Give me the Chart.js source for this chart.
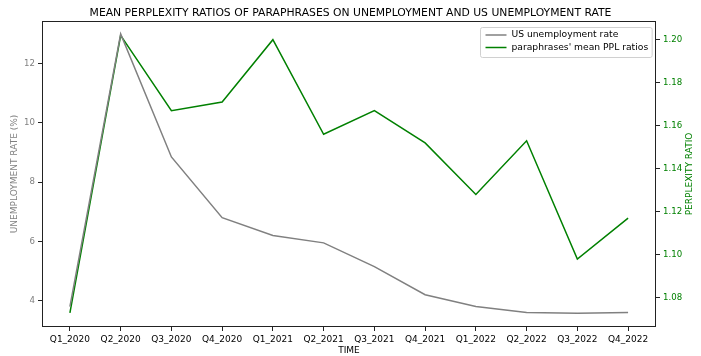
<!DOCTYPE html>
<html>
<head>
<meta charset="utf-8">
<script src="https://cdn.jsdelivr.net/npm/chart.js@4.4.0/dist/chart.umd.min.js"></script>
<style>
  html, body { margin: 0; padding: 0; background: #fff; }
  canvas { display: block; }
</style>
</head>
<body>
<canvas id="myChart" width="701" height="356"></canvas>
<script>
// values
const quarters = ['Q1_2020', 'Q2_2020', 'Q3_2020', 'Q4_2020', 'Q1_2021', 'Q2_2021',
                  'Q3_2021', 'Q4_2021', 'Q1_2022', 'Q2_2022', 'Q3_2022', 'Q4_2022'];
const unemploymentRate = [3.8, 13.0, 8.85, 6.8, 6.2, 5.95, 5.15, 4.2, 3.8, 3.6, 3.57, 3.6];
const pplRatios = [1.073, 1.202, 1.167, 1.171, 1.200, 1.156, 1.167, 1.152, 1.128, 1.153, 1.098, 1.117];
const leftTicks = [4, 6, 8, 10, 12];
const rightTicks = [1.08, 1.10, 1.12, 1.14, 1.16, 1.18, 1.20];

const FONT = 'DejaVu Sans';
const GREY = '#808080';
const GREEN = '#008000';
const SPINE = '#222222';

// matplotlib-like box around the plot
const framePlugin = {
  id: 'frame',
  afterDatasetsDraw(chart) {
    const {ctx, chartArea: a} = chart;
    ctx.save();
    ctx.strokeStyle = SPINE;
    ctx.lineWidth = 1;
    const l = Math.round(a.left) + 0.5, t = Math.round(a.top) + 0.5;
    const r = Math.round(a.right) - 0.5, b = Math.round(a.bottom) - 0.5;
    ctx.strokeRect(l, t, r - l, b - t);
    ctx.restore();
  }
};

// right y label reads bottom-to-top, like matplotlib
const rightTitlePlugin = {
  id: 'rightTitle',
  afterDraw(chart) {
    const {ctx, chartArea: a} = chart;
    ctx.save();
    ctx.translate(690, (a.top + a.bottom) / 2);
    ctx.rotate(-Math.PI / 2);
    ctx.font = '9px "' + FONT + '"';
    ctx.fillStyle = GREEN;
    ctx.textAlign = 'center';
    ctx.textBaseline = 'middle';
    ctx.fillText('PERPLEXITY RATIO', 0, 0);
    ctx.restore();
  }
};

// legend box in the upper right corner of the plot
const legendPlugin = {
  id: 'boxLegend',
  afterDraw(chart) {
    const {ctx, chartArea: a} = chart;
    const sets = chart.data.datasets;
    ctx.save();
    ctx.font = '9.2px "' + FONT + '"';
    let maxW = 0;
    sets.forEach(d => { maxW = Math.max(maxW, ctx.measureText(d.label).width); });
    const pad = 5, handle = 21, gap = 5, rowH = 12.5;
    const w = pad + handle + gap + maxW + 4;
    const h = 30;
    const x = Math.round(a.right - 4 - w) + 0.5;
    const y = Math.round(a.top + 6) + 0.5;
    ctx.fillStyle = 'rgba(255,255,255,0.85)';
    ctx.strokeStyle = '#d0d0d0';
    ctx.lineWidth = 1;
    ctx.beginPath();
    ctx.roundRect(x, y, w, h, 2);
    ctx.fill();
    ctx.stroke();
    sets.forEach((d, i) => {
      const cy = y + 7.5 + i * rowH;
      ctx.strokeStyle = d.borderColor;
      ctx.lineWidth = 1.5;
      ctx.beginPath();
      ctx.moveTo(x + pad, cy);
      ctx.lineTo(x + pad + handle, cy);
      ctx.stroke();
      ctx.fillStyle = '#000';
      ctx.textBaseline = 'middle';
      ctx.fillText(d.label, x + pad + handle + gap, cy);
    });
    ctx.restore();
  }
};

function createChart() {
  const ctx = document.getElementById('myChart').getContext('2d');
  return new Chart(ctx, {
    type: 'line',
    data: {
      datasets: [{
        label: 'US unemployment rate',
        data: unemploymentRate.map((v, i) => ({x: i, y: v})),
        borderColor: GREY,
        borderWidth: 1.5,
        pointRadius: 0,
        tension: 0,
        fill: false,
        yAxisID: 'y'
      }, {
        label: "paraphrases' mean PPL ratios",
        data: pplRatios.map((v, i) => ({x: i, y: v})),
        borderColor: GREEN,
        borderWidth: 1.5,
        pointRadius: 0,
        tension: 0,
        fill: false,
        yAxisID: 'y1'
      }]
    },
    options: {
      responsive: false,
      animation: false,
      devicePixelRatio: 1,
      layout: { padding: 0 },
      plugins: {
        legend: { display: false },
        tooltip: { enabled: false },
        title: {
          display: true,
          text: 'MEAN PERPLEXITY RATIOS OF PARAPHRASES ON UNEMPLOYMENT AND US UNEMPLOYMENT RATE',
          color: '#000',
          font: { family: FONT, size: 10.8, weight: 'normal' },
          padding: { top: 7, bottom: 1 }
        }
      },
      scales: {
        x: {
          type: 'linear',
          position: 'bottom',
          min: -0.55,
          max: 11.55,
          afterBuildTicks: s => { s.ticks = quarters.map((q, i) => ({value: i})); },
          afterFit: s => { s.height = 29; },
          ticks: {
            autoSkip: false,
            maxRotation: 0,
            padding: 3,
            color: '#000',
            font: { family: FONT, size: 9 },
            callback: v => quarters[v]
          },
          grid: { drawOnChartArea: false, drawTicks: true, tickLength: 4, color: SPINE },
          border: { display: false },
          title: {
            display: true,
            text: 'TIME',
            color: '#000',
            font: { family: FONT, size: 9 },
            padding: { top: 0, bottom: 0 }
          }
        },
        y: {
          type: 'linear',
          position: 'left',
          min: 3.11,
          max: 13.44,
          afterBuildTicks: s => { s.ticks = leftTicks.map(v => ({value: v})); },
          afterFit: s => { s.width = 42; },
          ticks: {
            padding: 3,
            color: GREY,
            font: { family: FONT, size: 8.6 }
          },
          grid: { drawOnChartArea: false, drawTicks: true, tickLength: 4, color: SPINE },
          border: { display: false },
          title: {
            display: true,
            text: 'UNEMPLOYMENT RATE (%)',
            color: GREY,
            font: { family: FONT, size: 9 },
            padding: { top: 9.6, bottom: 0 }
          }
        },
        y1: {
          type: 'linear',
          position: 'right',
          min: 1.0664,
          max: 1.2087,
          afterBuildTicks: s => { s.ticks = rightTicks.map(v => ({value: v})); },
          afterFit: s => { s.width = 45; },
          ticks: {
            padding: 3,
            color: GREEN,
            font: { family: FONT, size: 8.6 },
            callback: v => v.toFixed(2)
          },
          grid: { drawOnChartArea: false, drawTicks: true, tickLength: 4, color: SPINE },
          border: { display: false }
        }
      }
    },
    plugins: [framePlugin, rightTitlePlugin, legendPlugin]
  });
}

let chart = createChart();
</script>
</body>
</html>
